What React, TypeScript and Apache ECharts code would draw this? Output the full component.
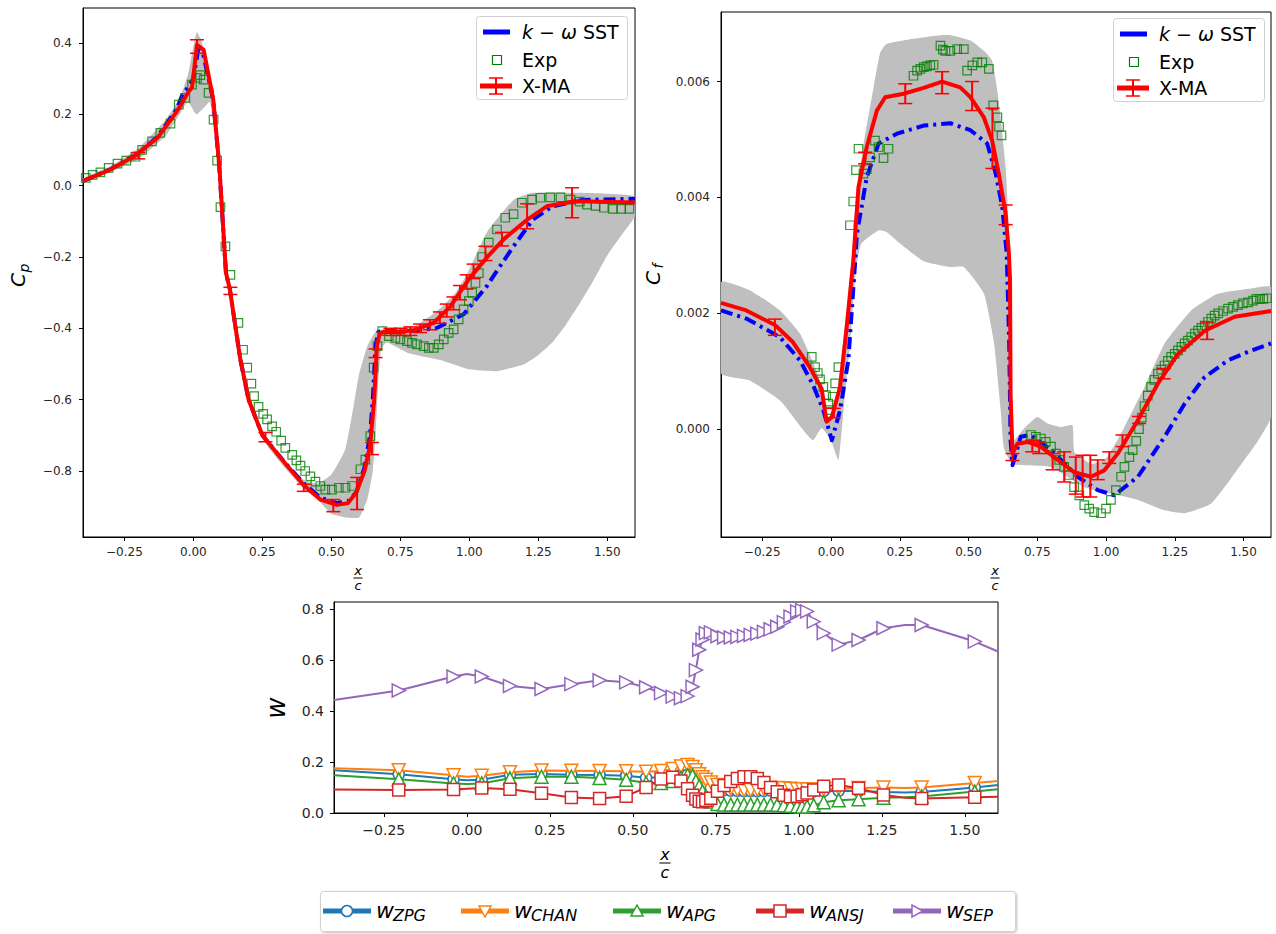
import React, { useEffect, useRef } from "react";
import * as echarts from "echarts";

const FONT = "DejaVu Sans";
const BLUE = "#0000ff";
const GREEN = "#008000";
const RED = "#ff0000";
const BAND = "#bfbfbf";
const W_COLORS = ["#1f77b4", "#ff7f0e", "#2ca02c", "#d62728", "#9467bd"];

// ---------- ticks ----------
const X_TICKS = [-0.25, 0, 0.25, 0.5, 0.75, 1.0, 1.25, 1.5];
const CP_TICKS = [-0.8, -0.6, -0.4, -0.2, 0, 0.2, 0.4];
const CF_TICKS = [0, 0.002, 0.004, 0.006];
const W_TICKS = [0, 0.2, 0.4, 0.6, 0.8];

// ---------- Cp panel ----------
const cpSST = [
  [-0.4, 0.013], [-0.3, 0.046], [-0.2, 0.09], [-0.13, 0.137], [-0.06, 0.215], [-0.04, 0.255],
  [-0.015, 0.28], [0.0, 0.3], [0.017, 0.38], [0.035, 0.37], [0.072, 0.24], [0.094, 0.05],
  [0.118, -0.245], [0.132, -0.29], [0.17, -0.487], [0.2, -0.6], [0.25, -0.7], [0.33, -0.775],
  [0.4, -0.835], [0.46, -0.875], [0.52, -0.89], [0.56, -0.885], [0.59, -0.86], [0.62, -0.79],
  [0.64, -0.7], [0.65, -0.6], [0.66, -0.45], [0.67, -0.41], [0.69, -0.405], [0.75, -0.41],
  [0.88, -0.4], [0.98, -0.36], [1.065, -0.28], [1.09, -0.25], [1.16, -0.17], [1.23, -0.095],
  [1.3, -0.058], [1.41, -0.04], [1.6, -0.037],
];
const cpXMA = [
  [-0.4, 0.013], [-0.3, 0.045], [-0.216, 0.082], [-0.13, 0.134], [-0.06, 0.208], [-0.017, 0.264],
  [-0.005, 0.275], [0.013, 0.395], [0.037, 0.381], [0.072, 0.241], [0.094, 0.054], [0.118, -0.245],
  [0.132, -0.29], [0.17, -0.487], [0.2, -0.6], [0.25, -0.7], [0.33, -0.776], [0.4, -0.84],
  [0.46, -0.88], [0.52, -0.895], [0.56, -0.89], [0.59, -0.86], [0.62, -0.8], [0.64, -0.73],
  [0.655, -0.6], [0.665, -0.45], [0.675, -0.415], [0.69, -0.41], [0.75, -0.41], [0.8, -0.405],
  [0.87, -0.385], [0.93, -0.34], [1.0, -0.26], [1.065, -0.2], [1.125, -0.15], [1.21, -0.095],
  [1.28, -0.058], [1.38, -0.044], [1.6, -0.047],
];
const cpExp = [
  [-0.39, 0.022], [-0.365, 0.03], [-0.337, 0.037], [-0.307, 0.05], [-0.275, 0.062], [-0.243, 0.07],
  [-0.21, 0.081], [-0.186, 0.1], [-0.15, 0.124], [-0.12, 0.148], [-0.083, 0.174], [-0.053, 0.227],
  [-0.029, 0.246], [-0.005, 0.283], [0.013, 0.302], [0.025, 0.31], [0.037, 0.297], [0.055, 0.26],
  [0.073, 0.185], [0.086, 0.07], [0.098, -0.06], [0.116, -0.17], [0.134, -0.25], [0.163, -0.385],
  [0.18, -0.46], [0.195, -0.51], [0.21, -0.555], [0.22, -0.59], [0.236, -0.62], [0.253, -0.64],
  [0.267, -0.655], [0.285, -0.675], [0.3, -0.69], [0.318, -0.715], [0.333, -0.735], [0.358, -0.755],
  [0.373, -0.77], [0.388, -0.785], [0.405, -0.8], [0.424, -0.815], [0.442, -0.83], [0.46, -0.842],
  [0.478, -0.852], [0.502, -0.852], [0.527, -0.847], [0.551, -0.847], [0.575, -0.842], [0.605, -0.795],
  [0.623, -0.768], [0.641, -0.702], [0.653, -0.51], [0.667, -0.45], [0.684, -0.408], [0.708, -0.422],
  [0.732, -0.427], [0.75, -0.431], [0.774, -0.436], [0.792, -0.441], [0.81, -0.445], [0.834, -0.45],
  [0.853, -0.455], [0.871, -0.455], [0.889, -0.445], [0.907, -0.431], [0.925, -0.413], [0.943, -0.403],
  [0.961, -0.375], [0.979, -0.347], [0.998, -0.324], [1.01, -0.3], [1.022, -0.273], [1.034, -0.245],
  [1.046, -0.2], [1.07, -0.16], [1.1, -0.123], [1.13, -0.09], [1.16, -0.08], [1.19, -0.048],
  [1.227, -0.039], [1.257, -0.034], [1.293, -0.033], [1.33, -0.033], [1.366, -0.039], [1.4, -0.045],
  [1.426, -0.053], [1.457, -0.057], [1.487, -0.062], [1.52, -0.065], [1.55, -0.065], [1.58, -0.065],
];
const cpErr = [
  [-0.2, 0.084, 0.009], [0.013, 0.39, 0.019], [0.134, -0.295, 0.01], [0.261, -0.705, 0.013],
  [0.4, -0.847, 0.01], [0.507, -0.897, 0.017], [0.593, -0.863, 0.045], [0.647, -0.737, 0.017],
  [0.66, -0.47, 0.012], [0.714, -0.41, 0.01], [0.75, -0.41, 0.01], [0.786, -0.408, 0.012],
  [0.821, -0.4, 0.012], [0.857, -0.39, 0.014], [0.893, -0.37, 0.016], [0.918, -0.35, 0.018],
  [0.942, -0.33, 0.018], [0.966, -0.3, 0.02], [0.99, -0.27, 0.02], [1.015, -0.24, 0.02],
  [1.058, -0.19, 0.02], [1.118, -0.15, 0.019], [1.209, -0.086, 0.035], [1.372, -0.048, 0.042],
];
const cpBandUpper = [
  [-0.4, 0.02], [-0.3, 0.055], [-0.2, 0.105], [-0.1, 0.185], [-0.05, 0.245], [-0.02, 0.31],
  [0.0, 0.39], [0.012, 0.43], [0.03, 0.405], [0.06, 0.27], [0.1, 0.04], [0.125, -0.24],
  [0.17, -0.48], [0.2, -0.59], [0.25, -0.69], [0.33, -0.77], [0.4, -0.825], [0.45, -0.835],
  [0.5, -0.81], [0.55, -0.74], [0.58, -0.62], [0.6, -0.53], [0.63, -0.45], [0.66, -0.41],
  [0.7, -0.4], [0.8, -0.395], [0.85, -0.37], [0.9, -0.34], [0.95, -0.3], [0.99, -0.25],
  [1.064, -0.13], [1.16, -0.04], [1.23, -0.02], [1.4, -0.02], [1.6, -0.03],
];
const cpBandLower = [
  [-0.4, 0.008], [-0.3, 0.04], [-0.2, 0.075], [-0.1, 0.14], [-0.05, 0.2], [-0.02, 0.235],
  [0.01, 0.2], [0.04, 0.22], [0.06, 0.235], [0.1, 0.0], [0.125, -0.27], [0.17, -0.5],
  [0.2, -0.61], [0.25, -0.71], [0.33, -0.79], [0.4, -0.85], [0.45, -0.88], [0.5, -0.92],
  [0.55, -0.93], [0.6, -0.93], [0.63, -0.88], [0.65, -0.8], [0.66, -0.7], [0.67, -0.55],
  [0.68, -0.46], [0.7, -0.44], [0.78, -0.47], [0.9, -0.49], [1.0, -0.515], [1.1, -0.52],
  [1.2, -0.5], [1.25, -0.475], [1.3, -0.44], [1.35, -0.39], [1.4, -0.33], [1.45, -0.265],
  [1.5, -0.195], [1.55, -0.14], [1.6, -0.085],
];

// ---------- Cf panel ----------
const cfSST = [
  [-0.4, 0.00205], [-0.308, 0.00191], [-0.186, 0.00159], [-0.113, 0.00119], [-0.065, 0.00076],
  [-0.028, 0.00033], [0.003, -0.00019], [0.033, 0.00033], [0.063, 0.00119], [0.088, 0.0029],
  [0.094, 0.00337], [0.13, 0.00435], [0.173, 0.00493], [0.24, 0.0051], [0.337, 0.00524],
  [0.434, 0.00528], [0.507, 0.00516], [0.568, 0.00493], [0.599, 0.00441], [0.623, 0.00383],
  [0.639, 0.00303], [0.648, 0.0015], [0.653, -0.00019], [0.66, -0.00062], [0.69, -0.00013],
  [0.726, -0.0001], [0.8, -0.00036], [0.897, -0.00082], [0.97, -0.00105], [1.03, -0.00114],
  [1.116, -0.00082], [1.213, -0.00013], [1.286, 0.00044], [1.359, 0.0009], [1.444, 0.00119],
  [1.529, 0.00136], [1.6, 0.00148],
];
const cfXMA = [
  [-0.4, 0.00218], [-0.308, 0.00205], [-0.204, 0.0018], [-0.138, 0.0015], [-0.077, 0.00107],
  [-0.034, 0.0007], [-0.016, 0.00013], [0.003, 0.00021], [0.033, 0.00073], [0.057, 0.00176],
  [0.081, 0.0029], [0.1, 0.00418], [0.13, 0.00487], [0.167, 0.0055], [0.197, 0.00573],
  [0.264, 0.00579], [0.337, 0.00589], [0.404, 0.006], [0.47, 0.0059], [0.507, 0.00573],
  [0.556, 0.00538], [0.586, 0.00498], [0.61, 0.00441], [0.635, 0.00372], [0.647, 0.00303],
  [0.651, 0.00257], [0.653, 0.0006], [0.66, -0.00042], [0.678, -0.00025], [0.714, -0.00022],
  [0.763, -0.0003], [0.824, -0.00053], [0.884, -0.00074], [0.945, -0.00082], [0.994, -0.00071],
  [1.043, -0.00042], [1.116, 0.000155], [1.189, 0.00079], [1.262, 0.0013], [1.359, 0.0017],
  [1.468, 0.00194], [1.6, 0.00204],
];
const cfExp = [
  [-0.07, 0.00125], [-0.058, 0.00107], [-0.048, 0.00097], [-0.04, 0.00086], [-0.028, 0.00073],
  [-0.018, 0.00059], [-0.01, 0.00044], [-0.004, 0.00033], [0.006, 0.00056], [0.015, 0.00079],
  [0.027, 0.00107], [0.069, 0.00352], [0.081, 0.00393], [0.091, 0.00447], [0.1, 0.00484],
  [0.118, 0.00441], [0.13, 0.00449], [0.142, 0.00469], [0.16, 0.00498], [0.173, 0.00487],
  [0.191, 0.00468], [0.209, 0.00484], [0.3, 0.0061], [0.313, 0.00619], [0.325, 0.00622],
  [0.337, 0.00625], [0.349, 0.00626], [0.361, 0.00628], [0.373, 0.00629], [0.398, 0.00662],
  [0.407, 0.00655], [0.416, 0.00653], [0.434, 0.00653], [0.459, 0.00656], [0.483, 0.00656],
  [0.495, 0.00619], [0.514, 0.00628], [0.532, 0.00633], [0.55, 0.00633], [0.574, 0.00622],
  [0.59, 0.00559], [0.605, 0.00538], [0.611, 0.00522], [0.62, 0.00507],
  [0.727, -0.0001], [0.745, -0.00013], [0.763, -0.00016], [0.781, -0.00022], [0.8, -0.0003],
  [0.818, -0.00042], [0.83, -0.00053], [0.848, -0.00065], [0.866, -0.00079], [0.884, -0.001],
  [0.903, -0.00114], [0.921, -0.00131], [0.939, -0.00137], [0.957, -0.00143], [0.982, -0.00145],
  [1.0, -0.00137], [1.018, -0.00122], [1.036, -0.00105], [1.055, -0.00082], [1.067, -0.00065],
  [1.085, -0.00048], [1.097, -0.00036], [1.11, -0.0002], [1.12, 0.0], [1.13, 0.0002],
  [1.14, 0.0004], [1.152, 0.00058], [1.164, 0.00073], [1.176, 0.00085], [1.189, 0.00096],
  [1.201, 0.00103], [1.213, 0.0011], [1.225, 0.00118], [1.237, 0.00125], [1.25, 0.0013],
  [1.262, 0.00136], [1.274, 0.00142], [1.286, 0.00148], [1.298, 0.00153], [1.31, 0.00159],
  [1.323, 0.00165], [1.335, 0.0017], [1.347, 0.00175], [1.359, 0.00179], [1.371, 0.00185],
  [1.383, 0.00191], [1.395, 0.00196], [1.408, 0.002], [1.426, 0.00204], [1.444, 0.00208],
  [1.462, 0.00211], [1.48, 0.00214], [1.498, 0.00217], [1.517, 0.00219], [1.535, 0.00222],
  [1.547, 0.00225], [1.56, 0.00225], [1.572, 0.00225], [1.585, 0.00226],
];
const cfErr = [
  [-0.204, 0.00176, 0.00014], [0.01, 0.00028, 0.00008], [0.124, 0.00468, 0.0001],
  [0.27, 0.00579, 0.00017], [0.404, 0.00598, 0.00019], [0.513, 0.00575, 0.00025],
  [0.587, 0.00502, 0.00052], [0.635, 0.0037, 0.00017], [0.66, -0.00048, 0.00006],
  [0.732, -0.00029, 0.0001], [0.757, -0.00032, 0.0001], [0.806, -0.00056, 0.00014],
  [0.848, -0.00065, 0.00026], [0.89, -0.0008, 0.00032], [0.915, -0.00081, 0.00036],
  [0.943, -0.00081, 0.00036], [0.97, -0.0007, 0.00017], [1.012, -0.00049, 0.0001],
  [1.06, -0.0002, 0.0001], [1.12, 0.00016, 0.00006], [1.21, 0.00096, 0.00009],
  [1.368, 0.0017, 0.00015],
];
const cfBandUpper = [
  [-0.4, 0.00254], [-0.296, 0.0024], [-0.186, 0.00205], [-0.113, 0.00165], [-0.052, 0.001],
  [-0.028, 0.0006], [-0.01, 0.0002], [0.01, 0.0003], [0.03, 0.0009], [0.06, 0.0022],
  [0.08, 0.0032], [0.091, 0.004], [0.118, 0.0049], [0.155, 0.0059], [0.179, 0.0065],
  [0.203, 0.00665], [0.3, 0.00674], [0.4, 0.0068], [0.434, 0.0068], [0.507, 0.00671],
  [0.556, 0.00653], [0.586, 0.00636], [0.61, 0.00567], [0.635, 0.00452], [0.647, 0.00338],
  [0.652, 0.0015], [0.656, -0.0002], [0.665, -0.0002], [0.7, 0.0], [0.75, 0.00021],
  [0.787, 0.0001], [0.836, 0.00004], [0.878, 0.00007], [0.886, -0.0004], [0.95, -0.0006],
  [1.0, -0.0005], [1.04, -0.0002], [1.067, 0.00004], [1.14, 0.00073], [1.213, 0.00148],
  [1.31, 0.00205], [1.408, 0.00234], [1.529, 0.00243], [1.6, 0.00245],
];
const cfBandLower = [
  [-0.4, 0.00096], [-0.296, 0.00084], [-0.186, 0.0005], [-0.1, -0.00002], [-0.065, -0.00019],
  [-0.034, 0.00002], [0.0, -0.0002], [0.027, -0.00053], [0.045, 0.0003], [0.07, 0.0015],
  [0.09, 0.0027], [0.11, 0.0032], [0.173, 0.00343], [0.203, 0.0034], [0.252, 0.0032],
  [0.337, 0.0029], [0.434, 0.0028], [0.483, 0.0028], [0.556, 0.00234], [0.593, 0.00148],
  [0.617, 0.00033], [0.629, -0.00033], [0.66, -0.0006], [0.8, -0.00065], [0.921, -0.001],
  [1.018, -0.00111], [1.116, -0.00122], [1.213, -0.0014], [1.286, -0.00145], [1.383, -0.00128],
  [1.468, -0.00076], [1.554, -0.00019], [1.6, 0.00021],
];

// ---------- weights panel ----------
const wX = [
  -0.4, -0.205, -0.04, 0.0, 0.045, 0.13, 0.225, 0.315, 0.4, 0.48, 0.54, 0.585, 0.62, 0.645, 0.665,
  0.68, 0.69, 0.7, 0.71, 0.72, 0.735, 0.755, 0.775, 0.795, 0.815, 0.835, 0.855, 0.875, 0.895, 0.915,
  0.935, 0.955, 0.975, 0.995, 1.01, 1.025, 1.045, 1.075, 1.12, 1.18, 1.255, 1.32, 1.37, 1.53, 1.6,
];
const wNoMarkerX = [-0.4, 0.0, 1.32, 1.6];
const wZPG = [
  0.168, 0.152, 0.132, 0.128, 0.13, 0.15, 0.153, 0.15, 0.149, 0.146, 0.138, 0.14, 0.145, 0.15, 0.15,
  0.145, 0.135, 0.125, 0.115, 0.105, 0.098, 0.092, 0.09, 0.088, 0.087, 0.086, 0.086, 0.086, 0.087, 0.088,
  0.088, 0.087, 0.086, 0.085, 0.085, 0.085, 0.085, 0.086, 0.087, 0.086, 0.082, 0.08, 0.082, 0.1, 0.11,
];
const wCHAN = [
  0.175, 0.168, 0.148, 0.142, 0.146, 0.16, 0.167, 0.166, 0.165, 0.164, 0.162, 0.165, 0.172, 0.182, 0.188,
  0.18, 0.168, 0.152, 0.14, 0.13, 0.12, 0.11, 0.1, 0.095, 0.092, 0.09, 0.09, 0.092, 0.095, 0.098,
  0.098, 0.097, 0.095, 0.093, 0.093, 0.092, 0.092, 0.093, 0.095, 0.098, 0.1, 0.098, 0.1, 0.118, 0.125,
];
const wAPG = [
  0.148, 0.132, 0.116, 0.114, 0.116, 0.136, 0.142, 0.142, 0.137, 0.13, 0.118, 0.118, 0.125, 0.138, 0.148,
  0.145, 0.125, 0.105, 0.085, 0.065, 0.045, 0.035, 0.033, 0.033, 0.033, 0.033, 0.033, 0.033, 0.033, 0.033,
  0.032, 0.03, 0.028, 0.026, 0.025, 0.025, 0.03, 0.042, 0.05, 0.054, 0.06, 0.062, 0.065, 0.084, 0.093,
];
const wANSJ = [
  0.092, 0.09, 0.092, 0.095, 0.098, 0.093, 0.077, 0.061, 0.057, 0.066, 0.1, 0.133, 0.14, 0.125, 0.095,
  0.07, 0.055, 0.046, 0.044, 0.05, 0.058, 0.085, 0.108, 0.123, 0.135, 0.142, 0.142, 0.135, 0.12, 0.1,
  0.083, 0.07, 0.064, 0.066, 0.072, 0.078, 0.09, 0.105, 0.11, 0.097, 0.071, 0.06, 0.057, 0.062, 0.064,
];
const wSEP = [
  0.443, 0.48, 0.535, 0.545, 0.535, 0.498, 0.486, 0.505, 0.52, 0.512, 0.493, 0.47, 0.456, 0.45, 0.458,
  0.495, 0.56, 0.64, 0.68, 0.705, 0.708, 0.693, 0.688, 0.688, 0.69, 0.694, 0.698, 0.703, 0.71, 0.72,
  0.73, 0.748, 0.77, 0.79, 0.795, 0.79, 0.75, 0.705, 0.66, 0.678, 0.724, 0.737, 0.737, 0.672, 0.633,
];
const wNames = ["ZPG", "CHAN", "APG", "ANSJ", "SEP"];
const wSeriesValues = [wZPG, wCHAN, wAPG, wANSJ, wSEP];

// ---------- helpers ----------
const fmt = (v: number, d: number) => (v < 0 ? "\u2212" : "") + Math.abs(v).toFixed(d);

function xAxis(gi: number, fs: number, margin: number) {
  return {
    type: "value", gridIndex: gi, min: -0.4, max: 1.6,
    axisLine: { show: true, onZero: false, lineStyle: { color: "#000", width: 1 } },
    axisTick: { show: true, inside: false, length: 4, customValues: X_TICKS, lineStyle: { color: "#000" } },
    axisLabel: { customValues: X_TICKS, formatter: (v: number) => fmt(v, 2), fontSize: fs, fontFamily: FONT, color: "#262626", margin },
    splitLine: { show: false },
  };
}
function yAxis(gi: number, min: number, max: number, ticks: number[], dec: number, fs: number, margin: number) {
  return {
    type: "value", gridIndex: gi, min, max,
    axisLine: { show: true, onZero: false, lineStyle: { color: "#000", width: 1 } },
    axisTick: { show: true, inside: false, length: 4, customValues: ticks, lineStyle: { color: "#000" } },
    axisLabel: { customValues: ticks, formatter: (v: number) => fmt(v, dec), fontSize: fs, fontFamily: FONT, color: "#262626", margin },
    splitLine: { show: false },
  };
}
function bandSeries(idx: number, upper: number[][], lower: number[][]) {
  const poly = upper.concat(lower.slice().reverse());
  return {
    type: "custom", xAxisIndex: idx, yAxisIndex: idx, data: [[0, 0]], silent: true, z: 1, clip: true,
    renderItem: (_p: any, api: any) => ({
      type: "polygon",
      shape: { points: poly.map((pt) => api.coord(pt)), smooth: 0.15 },
      style: { fill: BAND },
    }),
  };
}
function errSeries(idx: number, data: number[][]) {
  return {
    type: "custom", xAxisIndex: idx, yAxisIndex: idx, data, encode: { x: 0, y: 1 }, z: 6, silent: true,
    renderItem: (_p: any, api: any) => {
      const x = api.value(0), y = api.value(1), e = api.value(2);
      const a = api.coord([x, y + e]);
      const b = api.coord([x, y - e]);
      const w = 7;
      return {
        type: "group",
        children: [
          { type: "line", shape: { x1: a[0], y1: a[1], x2: b[0], y2: b[1] }, style: { stroke: RED, lineWidth: 2 } },
          { type: "line", shape: { x1: a[0] - w, y1: a[1], x2: a[0] + w, y2: a[1] }, style: { stroke: RED, lineWidth: 1.5 } },
          { type: "line", shape: { x1: b[0] - w, y1: b[1], x2: b[0] + w, y2: b[1] }, style: { stroke: RED, lineWidth: 1.5 } },
        ],
      };
    },
  };
}
function lineSeries(idx: number, data: number[][], color: string, dash: any, z: number) {
  return {
    type: "line", xAxisIndex: idx, yAxisIndex: idx, data, symbol: "none", showSymbol: false, z, clip: true,
    lineStyle: { color, width: 4, type: dash, cap: "butt", join: "round" }, silent: true,
  };
}
function expSeries(idx: number, data: number[][]) {
  return {
    type: "scatter", xAxisIndex: idx, yAxisIndex: idx, data, symbol: "rect", symbolSize: 8.5, z: 3, silent: true,
    itemStyle: { color: "rgba(255,255,255,0)", borderColor: GREEN, borderWidth: 1.2 },
  };
}

const W_SYMBOLS = [
  { symbol: "circle", size: 11, rot: 0 },
  { symbol: "triangle", size: 13, rot: 180 },
  { symbol: "triangle", size: 13, rot: 0 },
  { symbol: "rect", size: 12, rot: 0 },
  { symbol: "triangle", size: 13, rot: -90 },
];
function wSeries(i: number) {
  const vals = wSeriesValues[i];
  const data = wX.map((x, k) =>
    wNoMarkerX.indexOf(x) >= 0 ? { value: [x, vals[k]], symbol: "none" } : { value: [x, vals[k]] }
  );
  return {
    type: "line", xAxisIndex: 2, yAxisIndex: 2, data, z: 2 + i, silent: true,
    symbol: W_SYMBOLS[i].symbol, symbolSize: W_SYMBOLS[i].size, symbolRotate: W_SYMBOLS[i].rot,
    showSymbol: true, showAllSymbol: true,
    lineStyle: { color: W_COLORS[i], width: 2 },
    itemStyle: { color: "#ffffff", borderColor: W_COLORS[i], borderWidth: 1.5 },
  };
}

// ---------- graphic (legends, axis titles) ----------
function txt(x: number, y: number, text: string, size: number, italic: boolean, align = "left", rot = 0) {
  return {
    type: "text", x, y, rotation: rot, silent: true,
    style: { text, fontSize: size, fontFamily: FONT, fontStyle: italic ? "italic" : "normal", fill: "#000", align, verticalAlign: "middle" },
  };
}
function frac(cx: number, cy: number, size: number) {
  return [
    txt(cx, cy - size * 0.55, "x", size, true, "center"),
    { type: "line", silent: true, shape: { x1: cx - size * 0.35, y1: cy, x2: cx + size * 0.35, y2: cy }, style: { stroke: "#000", lineWidth: 1 } },
    txt(cx, cy + size * 0.6, "c", size, true, "center"),
  ];
}
function topLegend(dx: number, dy: number) {
  const it = (t: string, y: number) => txt(522 + dx, y + dy, t, 19, false);
  return [
    { type: "rect", silent: true, shape: { x: 476.5 + dx, y: 16.5 + dy, width: 151, height: 83, r: 3 }, style: { fill: "rgba(255,255,255,0.85)", stroke: "#d0d0d0", lineWidth: 1 } },
    { type: "line", silent: true, shape: { x1: 483 + dx, y1: 32 + dy, x2: 510 + dx, y2: 32 + dy }, style: { stroke: BLUE, lineWidth: 5 } },
    {
      type: "text", x: 522 + dx, y: 32 + dy, silent: true,
      style: {
        text: "{i|k}{n| \u2212 }{i|\u03c9}{n| SST}", verticalAlign: "middle", align: "left",
        rich: {
          i: { fontSize: 19, fontFamily: FONT, fontStyle: "italic", fill: "#000" },
          n: { fontSize: 19, fontFamily: FONT, fill: "#000" },
        },
      },
    },
    { type: "rect", silent: true, shape: { x: 492.5 + dx, y: 55.5 + dy, width: 9, height: 9 }, style: { fill: "none", stroke: GREEN, lineWidth: 1.2 } },
    it("Exp", 60),
    { type: "line", silent: true, shape: { x1: 480 + dx, y1: 86 + dy, x2: 512 + dx, y2: 86 + dy }, style: { stroke: RED, lineWidth: 5 } },
    { type: "line", silent: true, shape: { x1: 496 + dx, y1: 78 + dy, x2: 496 + dx, y2: 94 + dy }, style: { stroke: RED, lineWidth: 2 } },
    { type: "line", silent: true, shape: { x1: 489 + dx, y1: 78 + dy, x2: 503 + dx, y2: 78 + dy }, style: { stroke: RED, lineWidth: 1.5 } },
    { type: "line", silent: true, shape: { x1: 489 + dx, y1: 94 + dy, x2: 503 + dx, y2: 94 + dy }, style: { stroke: RED, lineWidth: 1.5 } },
    it("X-MA", 86),
  ];
}
function legendMarker(i: number, cx: number, cy: number) {
  const st = { fill: "#fff", stroke: W_COLORS[i], lineWidth: 1.5 };
  if (i === 0) return { type: "circle", silent: true, shape: { cx, cy, r: 5.5 }, style: st };
  if (i === 1) return { type: "polygon", silent: true, shape: { points: [[cx - 6, cy - 5], [cx + 6, cy - 5], [cx, cy + 6]] }, style: st };
  if (i === 2) return { type: "polygon", silent: true, shape: { points: [[cx - 6, cy + 5], [cx + 6, cy + 5], [cx, cy - 6]] }, style: st };
  if (i === 3) return { type: "rect", silent: true, shape: { x: cx - 6, y: cy - 6, width: 12, height: 12 }, style: st };
  return { type: "polygon", silent: true, shape: { points: [[cx - 5, cy - 6], [cx - 5, cy + 6], [cx + 6, cy]] }, style: st };
}
function bottomLegend() {
  const x0s = [323, 461, 613, 756, 893];
  const cy = 911;
  const els: any[] = [
    { type: "rect", silent: true, shape: { x: 320.5, y: 891.5, width: 695, height: 40, r: 3 }, style: { fill: "#fff", stroke: "#d0d0d0", lineWidth: 1, shadowBlur: 2, shadowColor: "rgba(0,0,0,0.25)", shadowOffsetX: 1, shadowOffsetY: 1 } },
  ];
  x0s.forEach((x0, i) => {
    els.push({ type: "line", silent: true, shape: { x1: x0, y1: cy, x2: x0 + 48, y2: cy }, style: { stroke: W_COLORS[i], lineWidth: 5 } });
    els.push(legendMarker(i, x0 + 24, cy));
    els.push(txt(x0 + 53, cy - 1, "w", 22, true));
    els.push(txt(x0 + 70, cy + 4, wNames[i], 16, true));
  });
  return els;
}

const graphics: any[] = [
  ...topLegend(0, 0),
  ...topLegend(637, 2),
  ...bottomLegend(),
  ...frac(358, 578, 13),
  ...frac(995, 578, 13),
  ...frac(665, 863, 16),
  txt(18, 280, "C", 20, true, "center", Math.PI / 2),
  txt(24, 268, "p", 14, true, "center", Math.PI / 2),
  txt(653, 278, "C", 20, true, "center", Math.PI / 2),
  txt(658, 266, "f", 14, true, "center", Math.PI / 2),
  txt(276, 708, "w", 26, true, "center", Math.PI / 2),
];

const option: any = {
  animation: false,
  backgroundColor: "#ffffff",
  grid: [
    { left: 83, top: 8, width: 552, height: 529, show: true, borderColor: "#000", borderWidth: 1, backgroundColor: "transparent", containLabel: false, outerBoundsMode: "none" },
    { left: 721, top: 12, width: 550, height: 525, show: true, borderColor: "#000", borderWidth: 1, backgroundColor: "transparent", containLabel: false, outerBoundsMode: "none" },
    { left: 334, top: 602, width: 664, height: 211, show: true, borderColor: "#000", borderWidth: 1, backgroundColor: "transparent", containLabel: false, outerBoundsMode: "none" },
  ],
  xAxis: [xAxis(0, 12, 9), xAxis(1, 12, 9), xAxis(2, 14, 10)],
  yAxis: [
    yAxis(0, -0.985, 0.498, CP_TICKS, 1, 12, 11),
    yAxis(1, -0.00186, 0.0072, CF_TICKS, 3, 12, 11),
    yAxis(2, 0, 0.827, W_TICKS, 1, 14, 10),
  ],
  series: [
    bandSeries(0, cpBandUpper, cpBandLower),
    lineSeries(0, cpSST, BLUE, [12, 5, 3, 5], 2),
    expSeries(0, cpExp),
    lineSeries(0, cpXMA, RED, "solid", 4),
    errSeries(0, cpErr),
    bandSeries(1, cfBandUpper, cfBandLower),
    lineSeries(1, cfSST, BLUE, [12, 5, 3, 5], 2),
    expSeries(1, cfExp),
    lineSeries(1, cfXMA, RED, "solid", 4),
    errSeries(1, cfErr),
    wSeries(0), wSeries(1), wSeries(2), wSeries(3), wSeries(4),
  ],
  graphic: { elements: graphics },
};

export default function App() {
  const ref = useRef<HTMLDivElement>(null);
  useEffect(() => {
    if (!ref.current) return;
    const chart = echarts.init(ref.current, null, { renderer: "svg" });
    chart.setOption(option);
    return () => chart.dispose();
  }, []);
  return (
    <div
      ref={ref}
      style={{ position: "absolute", left: 0, top: 0, width: 1276, height: 934, background: "#fff" }}
    />
  );
}
